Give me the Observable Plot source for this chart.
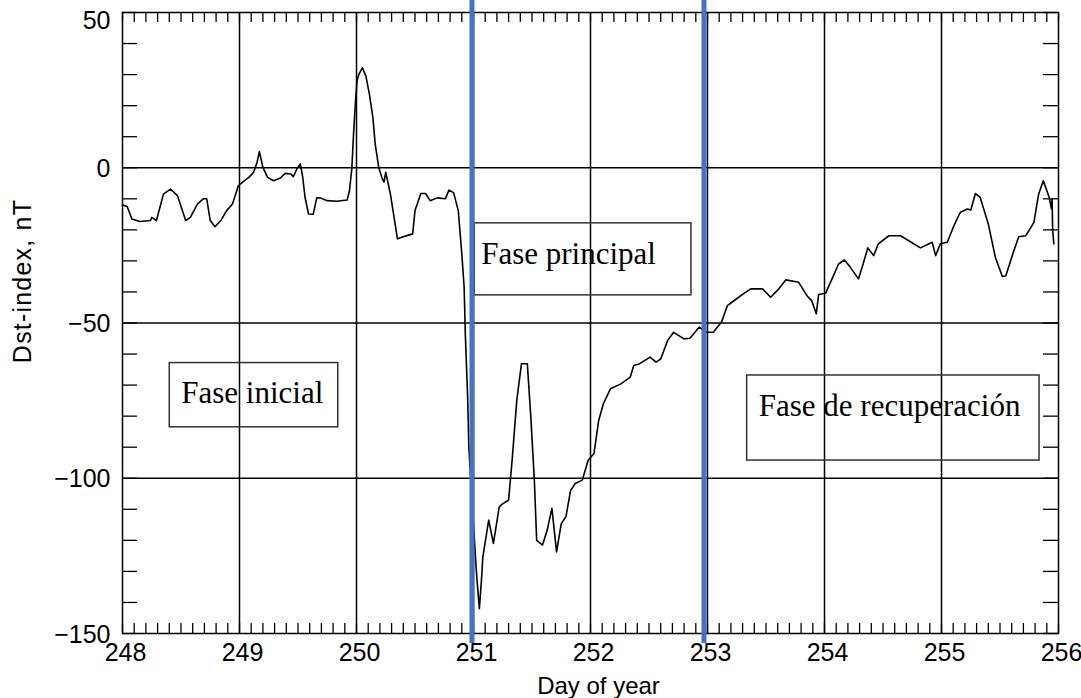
<!DOCTYPE html>
<html>
<head>
<meta charset="utf-8">
<script src="https://cdn.jsdelivr.net/npm/d3@7"></script>
<script src="https://cdn.jsdelivr.net/npm/@observablehq/plot@0.6"></script>
<style>
  html, body { margin: 0; padding: 0; background: #fff; }
  #chart svg { display: block; }
</style>
</head>
<body>
<div id="chart"></div>
<script>
// ---- Data ----
const days = [
  248.00, 248.04, 248.08, 248.15, 248.24, 248.25, 248.29, 248.35, 248.41, 248.47,
  248.54, 248.58, 248.64, 248.69, 248.72, 248.75, 248.79, 248.84, 248.89, 248.94,
  248.99, 249.04, 249.08, 249.12, 249.15, 249.17, 249.20, 249.24, 249.29, 249.35,
  249.39, 249.44, 249.46, 249.49, 249.52, 249.54, 249.56, 249.59, 249.63, 249.66,
  249.69, 249.75, 249.83, 249.92, 249.94, 249.96, 249.975, 249.99, 250.005, 250.02,
  250.05, 250.08, 250.11, 250.14, 250.16, 250.19, 250.22, 250.235, 250.25, 250.29,
  250.35, 250.40, 250.48, 250.50, 250.55, 250.59, 250.63, 250.69, 250.76, 250.79,
  250.83, 250.87, 250.90, 250.92, 250.93, 250.95, 250.96, 251.02, 251.03, 251.05,
  251.07, 251.08, 251.13, 251.17, 251.22, 251.24, 251.30, 251.33, 251.37, 251.41,
  251.46, 251.49, 251.52, 251.54, 251.59, 251.63, 251.67, 251.71, 251.75, 251.79,
  251.83, 251.87, 251.93, 251.98, 252.03, 252.07, 252.11, 252.17, 252.26, 252.34,
  252.37, 252.42, 252.51, 252.56, 252.60, 252.66, 252.71, 252.80, 252.85, 252.93,
  252.99, 253.05, 253.12, 253.17, 253.22, 253.30, 253.37, 253.47, 253.54, 253.61,
  253.67, 253.78, 253.85, 253.89, 253.93, 253.95, 254.01, 254.07, 254.12, 254.17,
  254.22, 254.29, 254.33, 254.37, 254.42, 254.46, 254.55, 254.65, 254.72, 254.82,
  254.92, 254.95, 254.99, 255.05, 255.10, 255.16, 255.22, 255.25, 255.29, 255.33,
  255.40, 255.46, 255.52, 255.55, 255.61, 255.66, 255.72, 255.79, 255.83, 255.87,
  255.92, 255.94, 255.945, 255.95, 255.96
];
const dst = [
  -12, -12.5, -16.5, -17.3, -17, -16, -17, -8.5, -6.9, -9,
  -17, -16, -11.7, -10, -10, -17, -19, -17, -13.8, -11.7,
  -5.8, -4.2, -3.1, -1.5, 1.7, 5.2, 0.1, -3.1, -4.2, -3.3,
  -1.8, -2, -2.9, -0.4, 1.2, -2.9, -9.5, -14.9, -15, -9.7,
  -9.7, -10.6, -10.8, -10.4, -7.4, -0.3, 11, 20.6, 28, 30.1,
  32.2, 29.6, 23.7, 16.2, 7.6, 0.1, -3.5, -4.6, -1.5, -8.5,
  -22.9, -22.2, -21.3, -13.8, -8.3, -8.3, -10.6, -9.7, -10, -7.2,
  -8, -13.8, -27.7, -38.5, -53.5, -73.9, -89.9, -127.4, -132.8, -142,
  -131.7, -125.3, -113.5, -121, -109.2, -108.5, -107, -94.2, -74.9, -63.1,
  -63.1, -80.3, -100.6, -120, -121.5, -116.7, -109.7, -123.7, -114.6, -112.4,
  -103.9, -101.7, -100.6, -94.2, -92, -81.4, -76, -71.2, -69.6, -67.4,
  -63.7, -63.1, -61, -62.6, -61.6, -55.6, -53, -55.1, -54.9, -51.3,
  -53, -53, -49.7, -44.4, -43, -40.8, -39, -39, -41.7, -39,
  -36.1, -36.9, -41.2, -42.8, -47, -40.8, -40.4, -35.3, -31, -29.7,
  -32, -35.8, -31, -25.8, -28.3, -24.5, -21.9, -21.9, -23.5, -25.8,
  -24, -28.3, -24.5, -24, -19.2, -14.4, -13.3, -13.6, -8.3, -9.5,
  -18.1, -28.8, -35, -34.8, -27.7, -22.2, -21.9, -17.6, -8.5, -4.2,
  -9.5, -13.2, -10, -20, -24.5
];

// Axis ticks
const xMajorTicks = [248, 249, 250, 251, 252, 253, 254, 255, 256];
const xGridLines = [249, 250, 251, 252, 253, 254, 255];
const yLowerTicks = [-150, -100, -50, 0];
const yTopTick = [50];
const yGridLines = [-100, -50, 0];
const xMinorTicks = d3.range(0, 81).map(i => 248 + i / 10);
const yMinorTicks = d3.range(-150, 51, 10);

// Phase boundaries (blue vertical lines), in days
const phaseBoundaries = [250.987, 252.970];

// Annotation boxes (data coordinates)
const phaseLabels = ["Fase inicial", "Fase principal", "Fase de recuperación"];
const boxDayStart = [248.404, 251.011, 253.339];
const boxDayEnd = [249.844, 252.863, 255.838];
const boxDstTop = [-62.9, -17.9, -66.9];
const boxDstBottom = [-83.6, -41.1, -94.3];
const labelDay = [248.502, 251.066, 253.438];
const labelDst = [-75.9, -30.9, -79.8];

// ---- Build ----
const W = 1081, H = 698;
const mL = 122, mR = 23, mT = 12, mB = 65;
const innerW = W - mL - mR;
const innerH = H - mT - mB;

const series = days.map((d, i) => ({day: d, dst: dst[i]}));
const boxes = phaseLabels.map((label, i) => ({
  label, x1: boxDayStart[i], x2: boxDayEnd[i], y1: boxDstTop[i], y2: boxDstBottom[i],
  tx: labelDay[i], ty: labelDst[i]
}));

const tickFont = "'Liberation Sans', Arial, sans-serif";
const fmt = d => d < 0 ? "\u2212" + Math.abs(d) : String(d);

const chart = Plot.plot({
  width: W,
  height: H,
  marginLeft: mL,
  marginRight: mR,
  marginTop: mT,
  marginBottom: mB,
  style: {background: "white", color: "black", overflow: "visible"},
  x: {domain: [248, 256]},
  y: {domain: [-150, 50]},
  marks: [
    Plot.gridX(xGridLines, {stroke: "black", strokeOpacity: 1, strokeWidth: 1.5}),
    Plot.gridY(yGridLines, {stroke: "black", strokeOpacity: 1, strokeWidth: 1.5}),
    // inward minor ticks
    Plot.tickX(xMinorTicks, {x: d => d, insetTop: innerH - 10, stroke: "black", strokeWidth: 1.3}),
    Plot.tickX(xMinorTicks, {x: d => d, insetBottom: innerH - 10, stroke: "black", strokeWidth: 1.3}),
    Plot.tickY(yMinorTicks, {y: d => d, insetRight: innerW - 15, stroke: "black", strokeWidth: 1.3}),
    Plot.tickY(yMinorTicks, {y: d => d, insetLeft: innerW - 15, stroke: "black", strokeWidth: 1.3}),
    Plot.frame({stroke: "black", strokeWidth: 1.5}),
    Plot.axisX(xMajorTicks, {tickSize: 0, tickPadding: 10, fontSize: 25, fontFamily: tickFont, label: null, tickFormat: fmt, dx: 3}),
    Plot.axisY(yLowerTicks, {tickSize: 0, tickPadding: 12, fontSize: 25, fontFamily: tickFont, label: null, tickFormat: fmt, dy: 1}),
    Plot.axisY(yTopTick, {tickSize: 0, tickPadding: 12, fontSize: 25, fontFamily: tickFont, label: null, tickFormat: fmt, dy: 8}),
    Plot.text(["Day of year"], {text: d => d, frameAnchor: "bottom", dx: 8, dy: 60, lineAnchor: "bottom", fontSize: 24, fontFamily: tickFont, fill: "black"}),
    Plot.text(["Dst-index, nT"], {text: d => d, frameAnchor: "left", rotate: -90, dx: -100, dy: -42, lineAnchor: "middle", textAnchor: "middle", fontSize: 25, fontFamily: tickFont, fill: "black"}),
    // data line
    Plot.line(series, {x: "day", y: "dst", stroke: "black", strokeWidth: 1.6}),
    // annotation boxes
    Plot.rect(boxes, {x1: "x1", x2: "x2", y1: "y1", y2: "y2", fill: "none", stroke: "#333", strokeWidth: 1.5}),
    Plot.text(boxes, {x: "tx", y: "ty", text: "label", textAnchor: "start", lineAnchor: "bottom", fontSize: 31, fontFamily: "'Liberation Serif', 'Times New Roman', serif", fill: "black"}),
    // phase boundaries
    Plot.ruleX(phaseBoundaries, {x: d => d, stroke: "#4472C4", strokeWidth: 5, insetTop: -12, insetBottom: -10})
  ]
});

document.getElementById("chart").appendChild(chart);
// widen the y-axis title slightly, as in the reference lettering
chart.querySelectorAll("text").forEach(t => {
  if (t.textContent === "Dst-index, nT") t.setAttribute("letter-spacing", "1.2");
});
</script>
</body>
</html>
